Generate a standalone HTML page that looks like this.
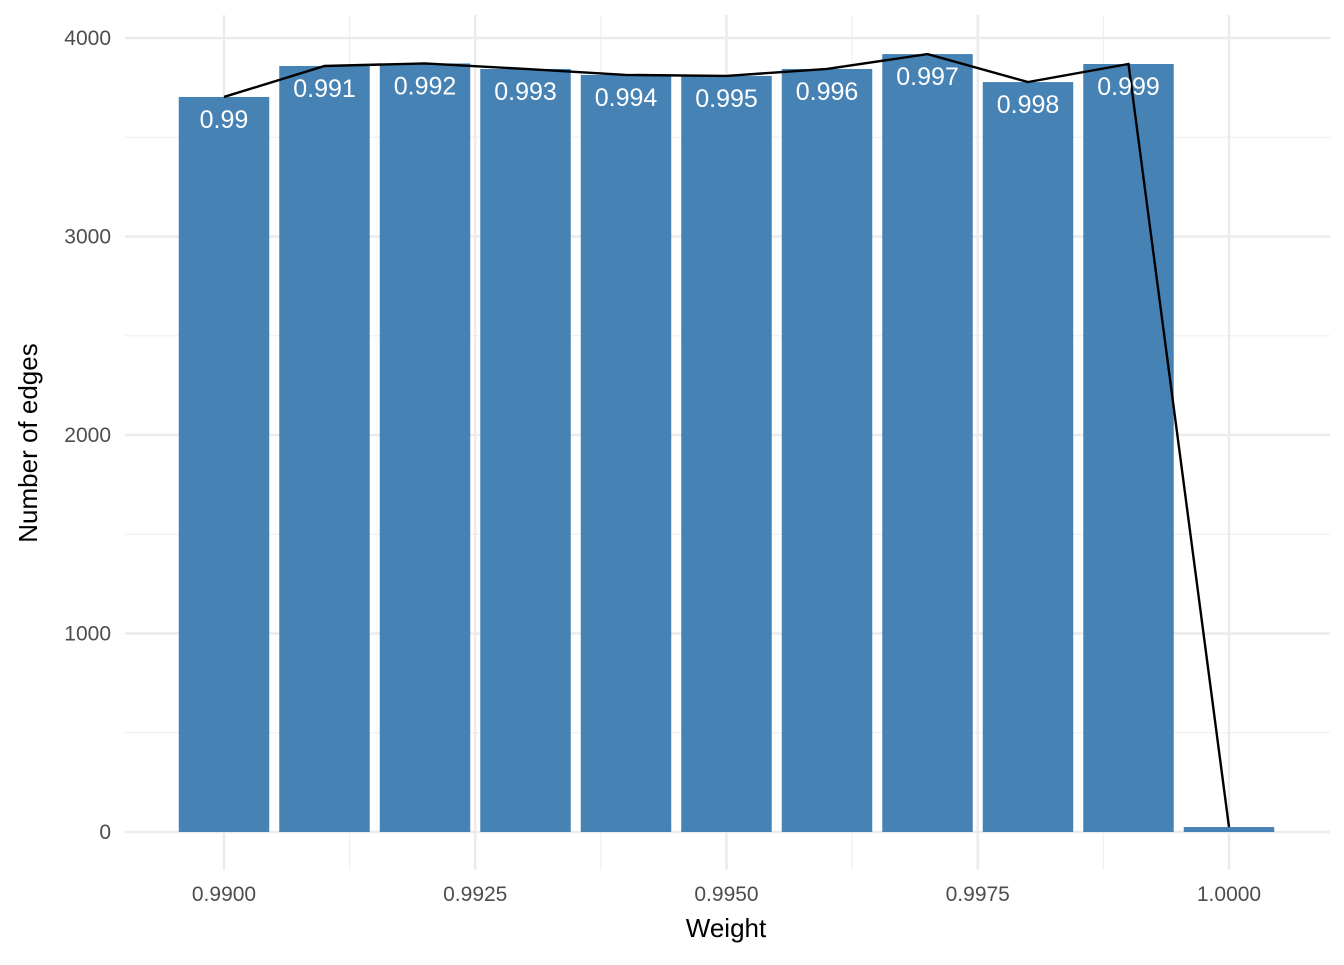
<!DOCTYPE html>
<html><head><meta charset="utf-8"><style>
body{margin:0;background:#fff;}
svg text{font-family:"Liberation Sans","DejaVu Sans",sans-serif;}
</style></head><body>
<svg id="chart" width="1344" height="960" xmlns="http://www.w3.org/2000/svg">
<g id="grid"></g>
<g id="bars"></g>
<g id="line"></g>
<g id="labels"></g>
<g id="axes"></g>
<text x="726" y="937" text-anchor="middle" font-size="26" fill="#000">Weight</text>
<text transform="translate(37,443) rotate(-90)" text-anchor="middle" font-size="26" fill="#000">Number of edges</text>
</svg>
<script>
const weights=[0.990,0.991,0.992,0.993,0.994,0.995,0.996,0.997,0.998,0.999,1.000];
const counts=[3703,3859,3872,3844,3814,3809,3844,3919,3778,3869,25];
const barLabels=["0.99","0.991","0.992","0.993","0.994","0.995","0.996","0.997","0.998","0.999",""];
const xTicks=[0.99,0.9925,0.995,0.9975,1.0];
const xTickLabels=["0.9900","0.9925","0.9950","0.9975","1.0000"];
const yTicks=[0,1000,2000,3000,4000];
const NS="http://www.w3.org/2000/svg";
const X=v=>224+(v-0.99)*100500;
const Y=v=>832-v*0.1985;
function mk(tag,attrs,parent){const e=document.createElementNS(NS,tag);for(const k in attrs)e.setAttribute(k,attrs[k]);document.getElementById(parent).appendChild(e);return e;}
// minor grid
for(let i=0;i<4;i++){const m=(xTicks[i]+xTicks[i+1])/2;const g=mk('line',{x1:X(m),x2:X(m),y1:15,y2:870,stroke:'#f0f0f0','stroke-width':1.2},'grid');

}
for(let i=0;i<4;i++){const m=(yTicks[i]+yTicks[i+1])/2;const g=mk('line',{x1:125,x2:1330,y1:Y(m),y2:Y(m),stroke:'#f0f0f0','stroke-width':1.2},'grid');

}
xTicks.forEach((t,i)=>{const g=mk('line',{x1:X(t),x2:X(t),y1:15,y2:870,stroke:'#ebebeb','stroke-width':2.4},'grid');


const tx=mk('text',{x:X(t),y:901,'text-anchor':'middle','font-size':21,fill:'#4d4d4d'},'axes');tx.textContent=xTickLabels[i];

});
yTicks.forEach(t=>{const g=mk('line',{x1:125,x2:1330,y1:Y(t),y2:Y(t),stroke:'#ebebeb','stroke-width':2.4},'grid');


const tx=mk('text',{x:111,y:Y(t)+7,'text-anchor':'end','font-size':21,fill:'#4d4d4d'},'axes');tx.textContent=t;

});
const bw=90.5;
weights.forEach((w,i)=>{const b=mk('rect',{x:X(w)-bw/2,y:Y(counts[i]),width:bw,height:832-Y(counts[i]),fill:'#4682b4'},'bars');


if(barLabels[i]){const t=mk('text',{x:X(w),y:Y(counts[i])+31,'text-anchor':'middle','font-size':25,fill:'#fff'},'labels');t.textContent=barLabels[i];

}});
const p=mk('polyline',{points:weights.map((w,i)=>X(w)+','+Y(counts[i])).join(' '),fill:'none',stroke:'#000','stroke-width':2.4},'line');


</script>
</body></html>
